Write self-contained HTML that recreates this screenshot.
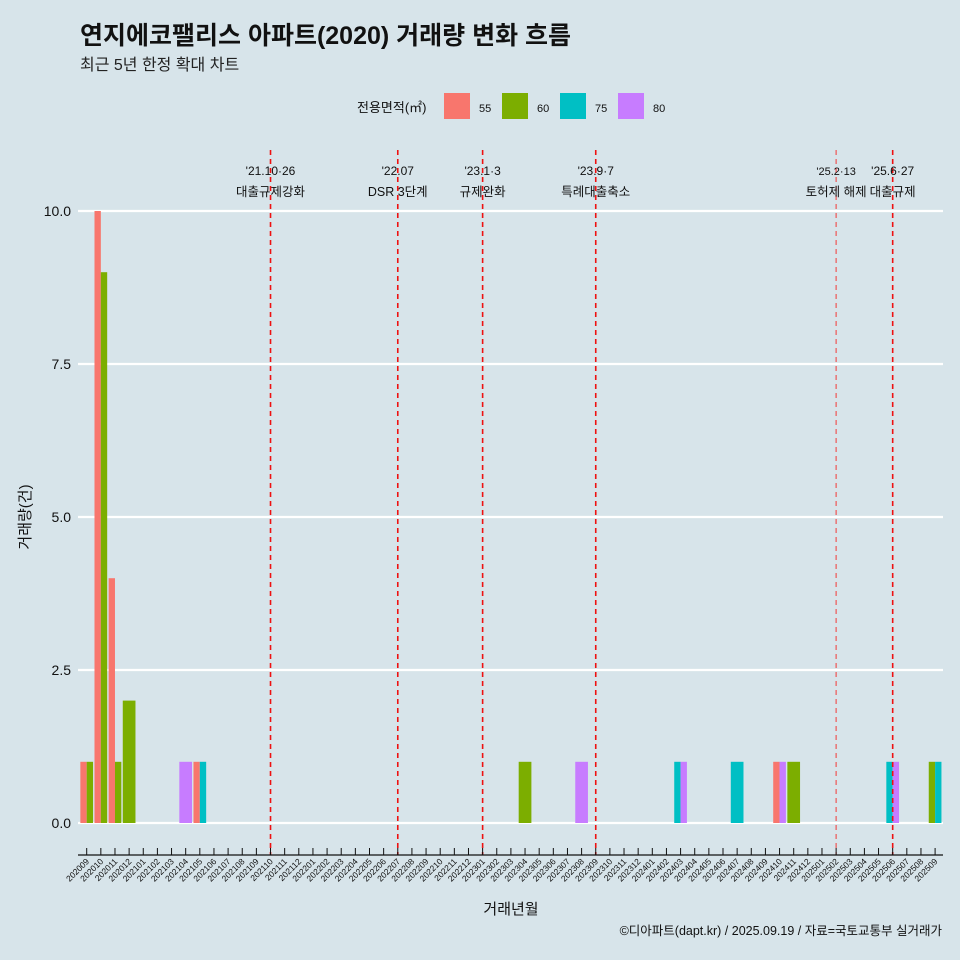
<!DOCTYPE html>
<html><head><meta charset="utf-8">
<style>
body{margin:0;background:#d7e4ea;}
svg{display:block;font-family:"Liberation Sans","Noto Sans CJK KR",sans-serif;}
</style></head>
<body>
<svg id="chart" width="960" height="960" viewBox="0 0 960 960">
<rect width="960" height="960" fill="#d7e4ea"/>
<text x="80" y="44" font-size="25" font-weight="bold" fill="#111">연지에코팰리스 아파트(2020) 거래량 변화 흐름</text>
<text x="80" y="70" font-size="16" fill="#222">최근 5년 한정 확대 차트</text>
<g id="legend">
<text x="357" y="112" font-size="13" fill="#111">전용면적(㎡)</text>
</g>
<g id="grid"></g><g id="bars"></g><g id="vlines"></g><g id="axes"></g>
<text x="30" y="517" font-size="15" fill="#111" text-anchor="middle" transform="rotate(-90 30 517)">거래량(건)</text>
<text x="511" y="914" font-size="15" fill="#111" text-anchor="middle">거래년월</text>
<text x="942" y="935" font-size="12.5" fill="#111" text-anchor="end">©디아파트(dapt.kr) / 2025.09.19 / 자료=국토교통부 실거래가</text>
</svg>
<script>
const seriesNames=["55","60","75","80"];
const seriesColors=["#f8766d","#7cae00","#00bfc4","#c77cff"];
const barMonths=["202009","202010","202011","202012","202104","202105","202304","202308","202403","202407","202410","202411","202506","202509"];
const v55=[1,10,4,0,0,1,0,0,0,0,1,0,0,0];
const v60=[1,9,1,2,0,0,1,0,0,0,0,1,0,1];
const v75=[0,0,0,0,0,1,0,0,1,1,0,0,1,1];
const v80=[0,0,0,0,1,0,0,1,1,0,1,0,1,0];
const yTicks=[0,2.5,5,7.5,10];
const yTickLabels=["0.0","2.5","5.0","7.5","10.0"];
const events=["202110","202207","202301","202309","202502","202506"];
const eventDates=["'21.10·26","'22.07","'23.1·3","'23.9·7","'25.2·13","'25.6·27"];
const eventLabels=["대출규제강화","DSR 3단계","규제완화","특례대출축소","토허제 해제","대출규제"];

const NS="http://www.w3.org/2000/svg";
function mk(tag,attrs,parent){const e=document.createElementNS(NS,tag);for(const k in attrs)e.setAttribute(k,attrs[k]);parent.appendChild(e);return e;}
const months=[];
for(let y=2020,m=9;y*100+m<=202509;){months.push(String(y*100+m));m++;if(m>12){m=1;y++;}}
const X0=86.7,DX=14.14;
function xPos(ym){return X0+months.indexOf(ym)*DX;}
function yPos(v){return 823-v*61.2;}
const svg=document.getElementById('chart');
const grid=document.getElementById('grid'),bars=document.getElementById('bars'),vl=document.getElementById('vlines'),axes=document.getElementById('axes'),leg=document.getElementById('legend');

seriesNames.forEach((s,i)=>{
 const r=mk('rect',{x:444+i*58,y:93,width:26,height:26,fill:seriesColors[i]},leg);
 
 
 const t=mk('text',{x:479+i*58,y:112,'font-size':11,fill:'#111'},leg);t.textContent=s;
 
 
});

yTicks.forEach((v,i)=>{
 const l=mk('line',{x1:78,x2:943,y1:yPos(v),y2:yPos(v),stroke:'#fff','stroke-width':2.2},grid);
 
 
 const t=mk('text',{x:71,y:yPos(v)+5,'font-size':14,fill:'#111','text-anchor':'end'},axes);t.textContent=yTickLabels[i];
 
 
});

const allVals=[v55,v60,v75,v80];
const GW=12.7;
barMonths.forEach((ym,j)=>{
 const present=[];allVals.forEach((arr,i)=>{if(arr[j]>0)present.push(i);});
 const w=GW/present.length,cx=xPos(ym);
 present.forEach((i,k)=>{
  const v=allVals[i][j];
  const r=mk('rect',{x:cx-GW/2+k*w,y:yPos(v),width:w,height:yPos(0)-yPos(v),fill:seriesColors[i]},bars);
  
  
 });
});

events.forEach((ym,i)=>{
 const x=xPos(ym);const faint=(ym==="202502");
 const l=mk('line',{x1:x,x2:x,y1:150,y2:855,stroke:faint?'#ee5555':'#ee1111','stroke-width':faint?1.2:1.6,'stroke-dasharray':'5,4'},vl);
 
 
 const fs=faint?11:12;
 const t1=mk('text',{x:x,y:175,'font-size':fs,fill:'#111','text-anchor':'middle'},vl);t1.textContent=eventDates[i];
 
 
 const t2=mk('text',{x:x,y:196,'font-size':12.5,fill:'#111','text-anchor':'middle'},vl);t2.textContent=eventLabels[i];
 
 
});

const ax=mk('line',{x1:78,x2:943,y1:855,y2:855,stroke:'#111','stroke-width':1.2},axes);


months.forEach(ym=>{
 const x=xPos(ym);
 const tk=mk('line',{x1:x,x2:x,y1:848,y2:855,stroke:'#111','stroke-width':1},axes);
 
 
 const t=mk('text',{x:x+3,y:862,'font-size':8.5,fill:'#111','text-anchor':'end',transform:`rotate(-45 ${x+3} 862)`},axes);t.textContent=ym;
 
 
});
</script>
</body></html>
